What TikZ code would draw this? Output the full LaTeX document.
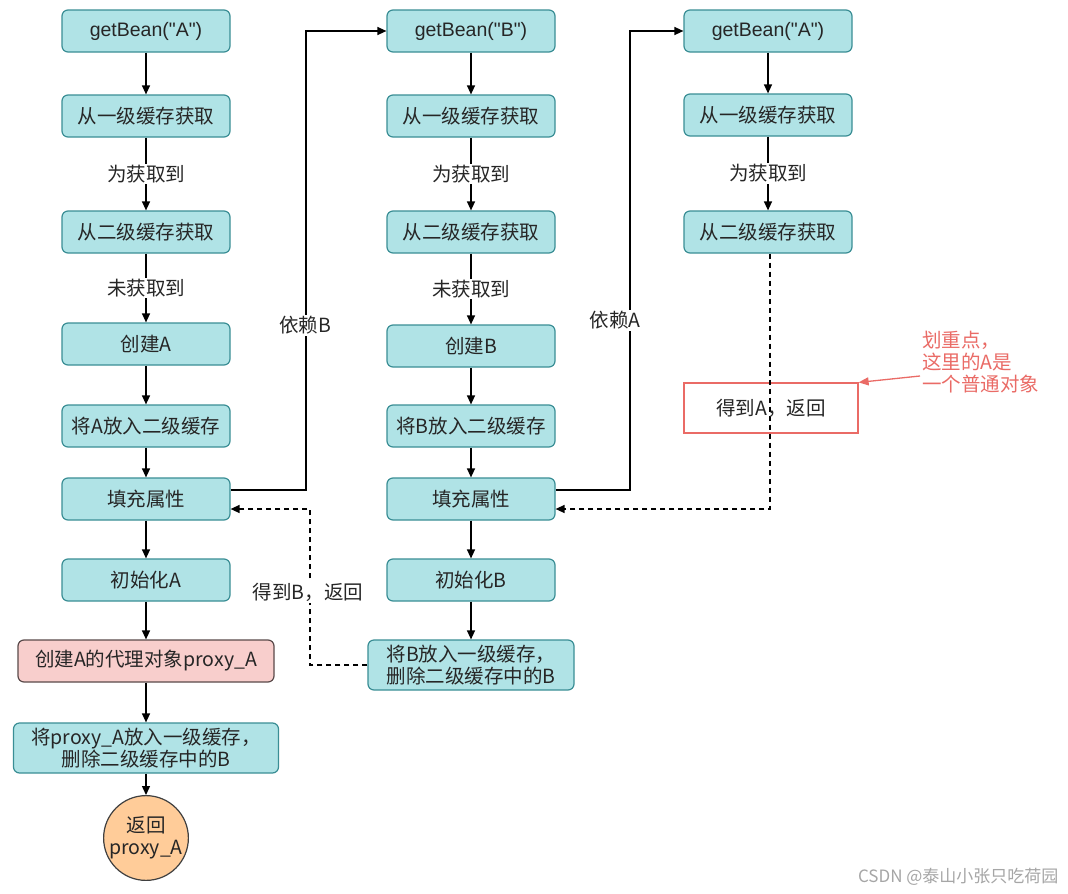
\documentclass[tikz,border=0pt]{standalone}
\usepackage{fontspec}
\setmainfont{Noto Sans CJK SC}
\newfontfamily\lat{Liberation Sans}
\usetikzlibrary{arrows.meta,calc}
\definecolor{tealfill}{HTML}{B0E3E6}
\definecolor{tealborder}{HTML}{3A8E95}
\definecolor{pinkfill}{HTML}{F8CECC}
\definecolor{pinkborder}{HTML}{5A4A4A}
\definecolor{orangefill}{HTML}{FFCC99}
\definecolor{noteRed}{HTML}{EA6B66}
\begin{document}
\begin{tikzpicture}[x=1pt,y=-1pt,
  txt/.style={font=\fontsize{19.5}{22}\selectfont, text=black!85},
  box/.style={txt, draw=tealborder, fill=tealfill, rounded corners=6pt, line width=1.2pt,
    minimum width=168pt, minimum height=42pt, align=center, inner sep=2pt},
  arr/.style={line width=1.3pt, -{Triangle[length=9pt,width=8pt]}},
  dsh/.style={arr, dash pattern=on 5pt off 4pt},
  lbl/.style={txt, fill=white, inner sep=1.5pt}]
\useasboundingbox (0,0) rectangle (1068,894);
\fill[white] (0,0) rectangle (1068,894);

% left column
\node[box] (a1) at (146,31) {\lat getBean("A")};
\node[box] (a2) at (146,116) {从一级缓存获取};
\node[box] (a3) at (146,232) {从二级缓存获取};
\node[box] (a4) at (146,344) {创建A};
\node[box] (a5) at (146,426) {将A放入二级缓存};
\node[box] (a6) at (146,499) {填充属性};
\node[box] (a7) at (146,580) {初始化A};
\node[box, fill=pinkfill, draw=pinkborder, minimum width=256pt] (a8) at (146,661) {创建A的代理对象proxy\_A};
\node[box, minimum width=265pt, minimum height=50pt] (a9) at (146,748) {将proxy\_A放入一级缓存，\\删除二级缓存中的B};
\node[txt, circle, draw=black!75, fill=orangefill, line width=1.2pt, minimum size=62pt, inner sep=0pt, align=center] (a10) at (146,838) {返回\\proxy\_A};

% middle column
\node[box] (b1) at (471,31) {\lat getBean("B")};
\node[box] (b2) at (471,116) {从一级缓存获取};
\node[box] (b3) at (471,232) {从二级缓存获取};
\node[box] (b4) at (471,346) {创建B};
\node[box] (b5) at (471,426) {将B放入二级缓存};
\node[box] (b6) at (471,499) {填充属性};
\node[box] (b7) at (471,580) {初始化B};
\node[box, minimum width=206pt, minimum height=50pt] (b8) at (471,665) {将B放入一级缓存，\\删除二级缓存中的B};

% right column
\node[box] (c1) at (768,31) {\lat getBean("A")};
\node[box] (c2) at (768,115) {从一级缓存获取};
\node[box] (c3) at (768,232) {从二级缓存获取};
\node[txt, draw=noteRed, line width=1.2pt, minimum width=174pt, minimum height=50pt] (c4) at (771,408) {};

% vertical arrows left
\draw[arr] (a1) -- (a2);
\draw[arr] (a2) -- node[lbl] {为获取到} (a3);
\draw[arr] (a3) -- node[lbl] {未获取到} (a4);
\draw[arr] (a4) -- (a5);
\draw[arr] (a5) -- (a6);
\draw[arr] (a6) -- (a7);
\draw[arr] (a7) -- (a8);
\draw[arr] (a8) -- (a9);
\draw[arr] (a9) -- (a10);

% vertical arrows middle
\draw[arr] (b1) -- (b2);
\draw[arr] (b2) -- node[lbl] {为获取到} (b3);
\draw[arr] (b3) -- node[lbl] {未获取到} (b4);
\draw[arr] (b4) -- (b5);
\draw[arr] (b5) -- (b6);
\draw[arr] (b6) -- (b7);
\draw[arr] (b7) -- (b8);

% vertical arrows right
\draw[arr] (c1) -- (c2);
\draw[arr] (c2) -- node[lbl] {为获取到} (c3);

% dependencies
\coordinate (dB) at (306,31);
\draw[arr] ($(a6.east)+(0,-9)$) -| (dB) -- (b1.west);
\node[lbl] (lB) at (305,325) {依赖B};
\coordinate (dA) at (630,31);
\draw[arr] ($(b6.east)+(0,-9)$) -| (dA) -- (c1.west);
\node[lbl] (lA) at (615,320) {依赖A};

% returns
\coordinate (rB) at (310,509);
\draw[dsh] (b8.west) -| (rB) -- ($(a6.east)+(0,10)$);
\node[lbl] (lrB) at (308,592) {得到B，返回};
\coordinate (rA) at (770,509);
\draw[dsh] (c3.south -| rA) -- (rA) -- ($(b6.east)+(0,10)$);
\node[txt] (c4t) at (c4) {得到A，返回};

% note
\node[txt, text=noteRed, align=left, anchor=north west, inner sep=0pt] (note) at (922,331) {划重点，\\这里的A是\\一个普通对象};
\coordinate (nA) at (920,376);
\draw[noteRed, line width=1.3pt, -{Triangle[length=10pt,width=8pt]}] (nA) -- (c4.north east);

% watermark
\node[font=\fontsize{17}{20}\selectfont, text=black!35, anchor=east] (wm) at (1062,877) {CSDN @泰山小张只吃荷园};
\end{tikzpicture}
\end{document}
